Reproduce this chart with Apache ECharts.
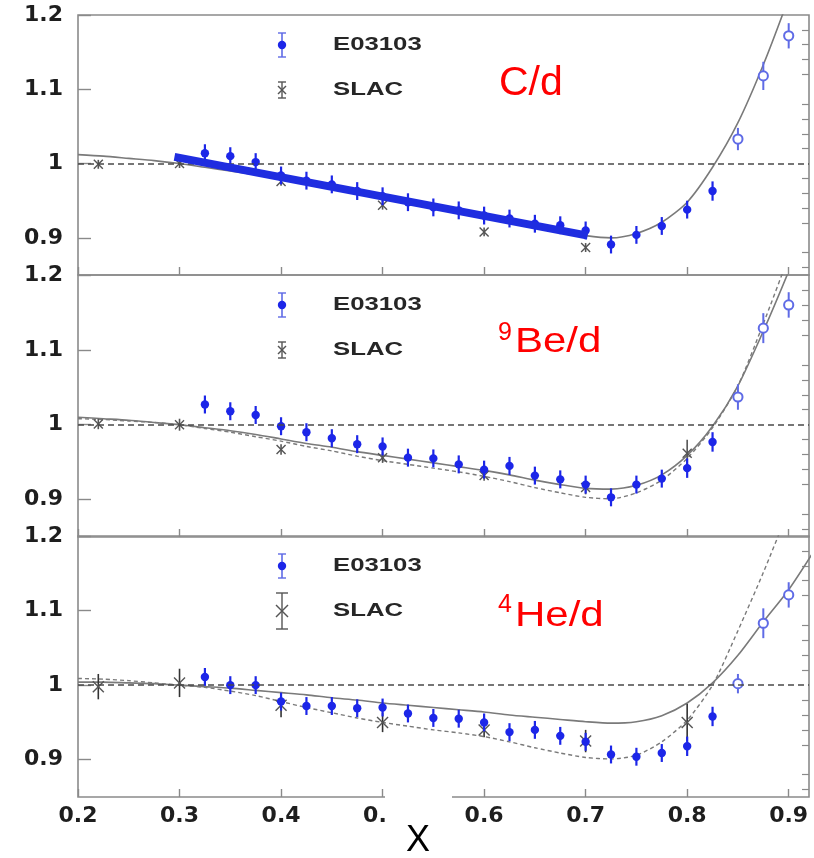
<!DOCTYPE html>
<html>
<head>
<meta charset="utf-8">
<title>Nuclear / deuteron structure function ratios</title>
<script src="https://cdn.jsdelivr.net/npm/echarts@6/dist/echarts.min.js"></script>
<style>
  html, body { margin: 0; padding: 0; background: #fff; }
  #chart { width: 814px; height: 858px; }
</style>
</head>
<body>
<div id="chart"></div>
<script>
// ---- x positions ----
const xE03103 = [0.325, 0.35, 0.375, 0.4, 0.425, 0.45, 0.475, 0.5, 0.525, 0.55, 0.575,
                 0.6, 0.625, 0.65, 0.675, 0.7, 0.725, 0.75, 0.775, 0.8, 0.825];
const xE03103Open = [0.85, 0.875, 0.9];
const xSLAC = [0.22, 0.3, 0.4, 0.5, 0.6, 0.7, 0.8];
const xCurve = [0.2, 0.225, 0.25, 0.275, 0.3, 0.325, 0.35, 0.375, 0.4, 0.425, 0.45, 0.475,
                0.5, 0.525, 0.55, 0.575, 0.6, 0.625, 0.65, 0.675, 0.7, 0.725, 0.75, 0.775,
                0.8, 0.825, 0.85, 0.875, 0.9, 0.925];

// ---- axis ticks ----
const xTicks = [0.2, 0.3, 0.4, 0.5, 0.6, 0.7, 0.8, 0.9];
const yTicks = [0.9, 1.0, 1.1, 1.2];
const yMinorTicks = [0.86, 0.88, 0.92, 0.94, 0.96, 0.98, 1.02, 1.04, 1.06, 1.08,
                     1.12, 1.14, 1.16, 1.18];

// ---- C/d ----
const cE03103 = [1.014, 1.010, 1.002, 0.984, 0.977, 0.972, 0.963, 0.956, 0.948, 0.941, 0.937,
                 0.930, 0.926, 0.919, 0.917, 0.910, 0.891, 0.904, 0.916, 0.938, 0.963];
const cE03103Err = [0.012, 0.012, 0.012, 0.012, 0.012, 0.012, 0.012, 0.012, 0.012, 0.012, 0.012,
                    0.012, 0.012, 0.012, 0.012, 0.012, 0.012, 0.012, 0.012, 0.012, 0.013];
const cE03103Open = [1.033, 1.118, 1.172];
const cE03103OpenErr = [0.015, 0.019, 0.017];
const cSLAC = [0.999, 1.0, 0.976, 0.944, 0.908, 0.887, null];
const cSLACErr = [0.006, 0.006, 0.006, 0.006, 0.006, 0.006, 0.006];
const cCurveSolid = [1.012, 1.010, 1.007, 1.004, 1.000, 0.995, 0.990, 0.985, 0.979, 0.973,
                     0.967, 0.961, 0.955, 0.948, 0.942, 0.935, 0.929, 0.922, 0.916, 0.909,
                     0.903, 0.900, 0.906, 0.921, 0.948, 0.995, 1.055, 1.133, 1.223, 1.32];
const cBand = [[0.295, 1.009], [0.702, 0.903]];

// ---- 9Be/d ----
const beE03103 = [1.027, 1.018, 1.013, 0.998, 0.990, 0.982, 0.974, 0.971, 0.956, 0.955, 0.947,
                  0.940, 0.945, 0.932, 0.927, 0.920, 0.903, 0.920, 0.928, 0.942, 0.977];
const beE03103Err = [0.012, 0.012, 0.012, 0.012, 0.012, 0.012, 0.012, 0.012, 0.012, 0.012, 0.012,
                     0.012, 0.012, 0.012, 0.012, 0.012, 0.012, 0.012, 0.012, 0.013, 0.013];
const beE03103Open = [1.037, 1.129, 1.160];
const beE03103OpenErr = [0.017, 0.02, 0.017];
const beSLAC = [1.001, 1.0, 0.967, 0.956, 0.932, 0.916, 0.962];
const beSLACErr = [0.007, 0.008, 0.007, 0.007, 0.007, 0.009, 0.018];
const beCurveSolid = [1.010, 1.008, 1.006, 1.003, 1.000, 0.996, 0.992, 0.987, 0.981, 0.975,
                      0.970, 0.964, 0.959, 0.954, 0.949, 0.944, 0.939, 0.933, 0.926, 0.920,
                      0.915, 0.914, 0.919, 0.933, 0.959, 0.998, 1.052, 1.125, 1.205, 1.29];
const beCurveDashed = [1.008, 1.007, 1.005, 1.003, 1.000, 0.995, 0.990, 0.984, 0.978, 0.971,
                       0.965, 0.958, 0.952, 0.947, 0.942, 0.937, 0.931, 0.924, 0.916, 0.909,
                       0.903, 0.901, 0.909, 0.926, 0.955, 0.996, 1.052, 1.135, 1.225, 1.32];

// ---- 4He/d ----
const heE03103 = [1.011, 1.0, 1.0, 0.978, 0.972, 0.972, 0.969, 0.970, 0.962, 0.956, 0.955,
                  0.950, 0.937, 0.940, 0.932, 0.924, 0.907, 0.904, 0.909, 0.918, 0.958];
const heE03103Err = [0.012, 0.012, 0.012, 0.012, 0.012, 0.012, 0.012, 0.012, 0.012, 0.012, 0.012,
                     0.012, 0.012, 0.012, 0.012, 0.012, 0.012, 0.012, 0.012, 0.013, 0.013];
const heE03103Open = [1.002, 1.083, 1.121];
const heE03103OpenErr = [0.013, 0.02, 0.017];
const heSLAC = [0.998, 1.003, 0.973, 0.950, 0.940, 0.925, 0.950];
const heSLACErr = [0.017, 0.019, 0.016, 0.013, 0.010, 0.015, 0.025];
const heCurveSolid = [1.004, 1.004, 1.003, 1.002, 1.000, 0.998, 0.996, 0.993, 0.990, 0.987,
                      0.983, 0.980, 0.976, 0.973, 0.970, 0.967, 0.964, 0.960, 0.957, 0.954,
                      0.951, 0.949, 0.951, 0.959, 0.976, 1.003, 1.040, 1.085, 1.128, 1.18];
const heCurveDashed = [1.009, 1.008, 1.006, 1.003, 1.000, 0.997, 0.992, 0.986, 0.978, 0.970,
                       0.963, 0.956, 0.950, 0.945, 0.940, 0.936, 0.931, 0.924, 0.916, 0.909,
                       0.903, 0.901, 0.906, 0.924, 0.953, 1.000, 1.073, 1.151, 1.235, 1.32];

// ---- styling ----
const BLUE = '#1c26e8';
const BLUE_OPEN = '#5f6be6';
const FRAME = '#8a8a8a';
const CURVE = '#7a7a7a';
const TICK_FONT = { fontFamily: 'DejaVu Sans', fontWeight: 'bold', fontSize: 22, color: '#1e1e1e' };

const panels = [
  { top: 15,  height: 260, e: cE03103,  eErr: cE03103Err,  o: cE03103Open,  oErr: cE03103OpenErr,
    s: cSLAC,  sErr: cSLACErr,  solid: cCurveSolid,  dashed: null, bigSlac: false },
  { top: 275, height: 262, e: beE03103, eErr: beE03103Err, o: beE03103Open, oErr: beE03103OpenErr,
    s: beSLAC, sErr: beSLACErr, solid: beCurveSolid, dashed: beCurveDashed, bigSlac: false },
  { top: 536, height: 261, e: heE03103, eErr: heE03103Err, o: heE03103Open, oErr: heE03103OpenErr,
    s: heSLAC, sErr: heSLACErr, solid: heCurveSolid, dashed: heCurveDashed, bigSlac: true }
];

function zip3(xs, ys, es) {
  const out = [];
  for (let i = 0; i < xs.length; i++) {
    if (ys[i] == null) continue;
    out.push([xs[i], ys[i], es[i]]);
  }
  return out;
}
function zip2(xs, ys) {
  return xs.map((x, i) => [x, ys[i]]);
}

// error bar + marker drawn per data point
function markerRenderer(kind, big) {
  return function (params, api) {
    const x = api.value(0), y = api.value(1), e = api.value(2);
    const c = api.coord([x, y]);
    const hi = api.coord([x, y + e]);
    const lo = api.coord([x, y - e]);
    const kids = [];
    if (kind === 'filled') {
      kids.push({ type: 'line', shape: { x1: c[0], y1: hi[1], x2: c[0], y2: lo[1] },
                  style: { stroke: BLUE, lineWidth: 2.2 } });
      kids.push({ type: 'circle', shape: { cx: c[0], cy: c[1], r: 4.2 },
                  style: { fill: BLUE, stroke: null } });
    } else if (kind === 'open') {
      kids.push({ type: 'line', shape: { x1: c[0], y1: hi[1], x2: c[0], y2: lo[1] },
                  style: { stroke: BLUE_OPEN, lineWidth: 2 } });
      kids.push({ type: 'circle', shape: { cx: c[0], cy: c[1], r: 4.6 },
                  style: { fill: '#fff', stroke: BLUE_OPEN, lineWidth: 2 } });
    } else {
      const s = big ? 5.5 : 4.5;
      kids.push({ type: 'line', shape: { x1: c[0], y1: hi[1], x2: c[0], y2: lo[1] },
                  style: { stroke: big ? '#333' : '#555', lineWidth: 1.6 } });
      kids.push({ type: 'line', shape: { x1: c[0] - s, y1: c[1] - s, x2: c[0] + s, y2: c[1] + s },
                  style: { stroke: '#555', lineWidth: 1.4 } });
      kids.push({ type: 'line', shape: { x1: c[0] - s, y1: c[1] + s, x2: c[0] + s, y2: c[1] - s },
                  style: { stroke: '#555', lineWidth: 1.4 } });
    }
    return { type: 'group', children: kids };
  };
}

const grid = [], xAxis = [], yAxis = [], series = [], graphic = [];

panels.forEach((p, i) => {
  grid.push({ left: 78, right: 5, top: p.top, height: p.height, show: true,
              borderColor: FRAME, borderWidth: 1.6, backgroundColor: 'transparent' });
  xAxis.push({
    type: 'value', gridIndex: i, min: 0.2, max: 0.92,
    axisLine: { show: false }, splitLine: { show: false },
    axisTick: { inside: true, length: 8, customValues: xTicks, lineStyle: { color: FRAME, width: 1.4 } },
    axisLabel: Object.assign({ show: i === 2, customValues: xTicks, margin: 8 }, TICK_FONT)
  });
  yAxis.push({
    type: 'value', gridIndex: i, min: 0.85, max: 1.2,
    axisLine: { show: false }, splitLine: { show: false },
    axisTick: { inside: true, length: 13, customValues: yTicks, lineStyle: { color: FRAME, width: 1.4 } },
    axisLabel: Object.assign({ customValues: yTicks, margin: 15, verticalAlign: 'middle',
                               padding: [7, 0, 0, 0] }, TICK_FONT)
  });
  yAxis.push({
    type: 'value', gridIndex: i, min: 0.85, max: 1.2,
    axisLine: { show: false }, splitLine: { show: false }, axisLabel: { show: false },
    axisTick: { inside: true, length: 7, customValues: yMinorTicks, lineStyle: { color: FRAME, width: 1.2 } }
  });

  const yi = i * 2;
  series.push({
    type: 'line', xAxisIndex: i, yAxisIndex: yi, data: zip2(xCurve, p.solid),
    smooth: 0.25, showSymbol: false, clip: true, z: 2,
    lineStyle: { color: CURVE, width: 1.6 },
    markLine: {
      silent: true, symbol: ['none', 'none'], label: { show: false },
      lineStyle: { color: '#4a4a4a', width: 1.6, type: [6, 4] },
      data: [{ yAxis: 1 }]
    }
  });
  if (p.dashed) {
    series.push({
      type: 'line', xAxisIndex: i, yAxisIndex: yi, data: zip2(xCurve, p.dashed),
      smooth: 0.25, showSymbol: false, clip: true, z: 2,
      lineStyle: { color: CURVE, width: 1.4, type: [4, 3] }
    });
  }
  series.push({
    type: 'custom', xAxisIndex: i, yAxisIndex: yi, z: 3,
    renderItem: markerRenderer('slac', p.bigSlac),
    data: zip3(xSLAC, p.s, p.sErr)
  });
  series.push({
    type: 'custom', xAxisIndex: i, yAxisIndex: yi, z: 4,
    renderItem: markerRenderer('filled'),
    data: zip3(xE03103, p.e, p.eErr)
  });
  series.push({
    type: 'custom', xAxisIndex: i, yAxisIndex: yi, z: 4,
    renderItem: markerRenderer('open'),
    data: zip3(xE03103Open, p.o, p.oErr)
  });
  if (i === 0) {
    series.push({
      type: 'line', xAxisIndex: 0, yAxisIndex: 0, data: cBand, z: 5,
      showSymbol: false, lineStyle: { color: '#1f2de0', width: 8, cap: 'butt' }
    });
  }

  // legend block
  const T = p.top;
  const lx = 282;
  graphic.push(
    { type: 'line', shape: { x1: lx, y1: T + 18, x2: lx, y2: T + 42 }, style: { stroke: BLUE_OPEN, lineWidth: 1.6 } },
    { type: 'line', shape: { x1: lx - 4, y1: T + 18, x2: lx + 4, y2: T + 18 }, style: { stroke: BLUE_OPEN, lineWidth: 1.4 } },
    { type: 'line', shape: { x1: lx - 4, y1: T + 42, x2: lx + 4, y2: T + 42 }, style: { stroke: BLUE_OPEN, lineWidth: 1.4 } },
    { type: 'circle', shape: { cx: lx, cy: T + 30, r: 4.2 }, style: { fill: BLUE } }
  );
  const sh = p.bigSlac ? 18 : 8;
  const sx = p.bigSlac ? 6 : 4;
  const cw = p.bigSlac ? 6 : 4;
  graphic.push(
    { type: 'line', shape: { x1: lx, y1: T + 75 - sh, x2: lx, y2: T + 75 + sh }, style: { stroke: '#555', lineWidth: 1.4 } },
    { type: 'line', shape: { x1: lx - cw, y1: T + 75 - sh, x2: lx + cw, y2: T + 75 - sh }, style: { stroke: '#555', lineWidth: 1.4 } },
    { type: 'line', shape: { x1: lx - cw, y1: T + 75 + sh, x2: lx + cw, y2: T + 75 + sh }, style: { stroke: '#555', lineWidth: 1.4 } },
    { type: 'line', shape: { x1: lx - sx, y1: T + 75 - sx, x2: lx + sx, y2: T + 75 + sx }, style: { stroke: '#555', lineWidth: 1.4 } },
    { type: 'line', shape: { x1: lx - sx, y1: T + 75 + sx, x2: lx + sx, y2: T + 75 - sx }, style: { stroke: '#555', lineWidth: 1.4 } }
  );
  ['E03103', 'SLAC'].forEach((label, k) => {
    graphic.push({
      type: 'text', x: 333, y: T + 30 + k * 45, scaleX: 1.43, z: 10,
      style: { text: label, fontFamily: 'Liberation Sans', fontWeight: 'bold', fontSize: 18,
               fill: '#262626', align: 'left', verticalAlign: 'middle',
               textAlign: 'left', textVerticalAlign: 'middle' }
    });
  });
});

// panel titles
function redText(text, x, y, size, sx) {
  return { type: 'text', x: x, y: y, scaleX: sx || 1, z: 10,
           style: { text: text, fontFamily: 'Liberation Sans', fontSize: size, fill: '#ff0000',
                    align: 'left', verticalAlign: 'middle', textAlign: 'left', textVerticalAlign: 'middle' } };
}
graphic.push(redText('C/d', 499, 84, 41));
graphic.push(redText('9', 498, 333, 25));
graphic.push(redText('Be/d', 515, 342, 35, 1.2));
graphic.push(redText('4', 498, 605, 25));
graphic.push(redText('He/d', 515, 616, 35, 1.2));

// axis title on a white tab
graphic.push({ type: 'rect', shape: { x: 385, y: 788, width: 67, height: 70 }, style: { fill: '#fff' }, z: 20 });
graphic.push({ type: 'text', x: 418, y: 841, z: 21,
               style: { text: 'X', fontFamily: 'Liberation Sans', fontSize: 36, fill: '#000',
                        align: 'center', verticalAlign: 'middle', textAlign: 'center', textVerticalAlign: 'middle' } });

const chart = echarts.init(document.getElementById('chart'), null, { renderer: 'canvas' });
chart.setOption({
  animation: false,
  backgroundColor: '#fff',
  grid: grid,
  xAxis: xAxis,
  yAxis: yAxis,
  series: series,
  graphic: graphic
});
</script>
</body>
</html>
